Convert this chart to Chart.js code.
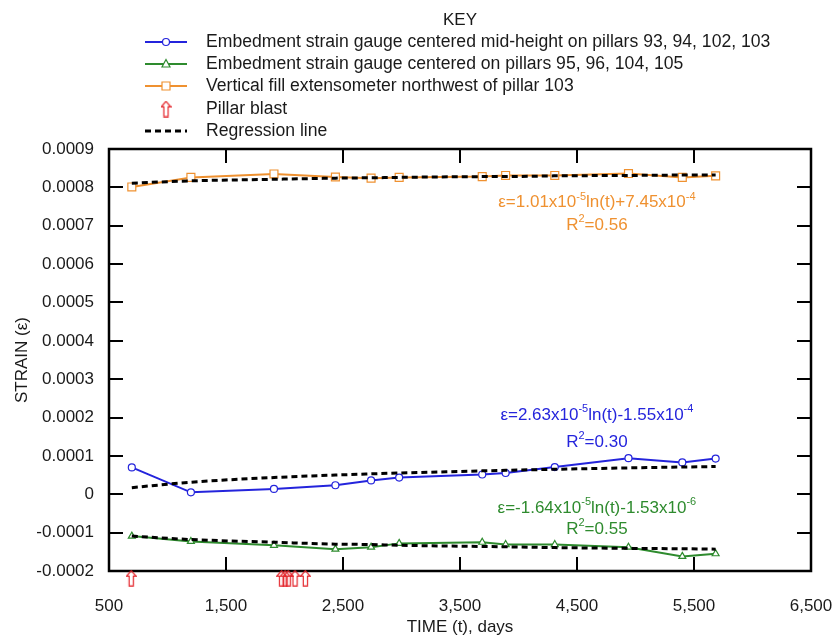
<!DOCTYPE html>
<html>
<head>
<meta charset="utf-8">
<script src="https://cdn.jsdelivr.net/npm/chart.js@4"></script>
<style>
  body { margin: 0; background: #fff; }
  canvas { display: block; }
</style>
</head>
<body>
<canvas id="chart" width="833" height="639"></canvas>
<script>
// readings, days since start
const days = [695, 1200, 1910, 2435, 2740, 2980, 3690, 3890, 4310, 4940, 5400, 5685];

// strain gauge mid-height (blue), centered (green), fill extensometer (orange)
const midHeightStrain = [0.000070, 0.000005, 0.000014, 0.0000235, 0.000036, 0.0000435, 0.0000515, 0.0000555, 0.000071, 0.000094, 0.000083, 0.000093];
const centeredStrain = [-0.000109, -0.000123, -0.000133, -0.000143, -0.000138, -0.000128, -0.000125, -0.000131, -0.000131, -0.000138, -0.000162, -0.000155];
const extensometerStrain = [0.000801, 0.000826, 0.000835, 0.000827, 0.000824, 0.000826, 0.000828, 0.000831, 0.000831, 0.000836, 0.000826, 0.000830];

// regression lines
const midHeightFit = [0.0000173, 0.0000315, 0.0000437, 0.0000501, 0.0000532, 0.0000554, 0.000061, 0.0000624, 0.0000651, 0.0000687, 0.000071, 0.0000724];
const centeredFit = [-0.000109, -0.000118, -0.000125, -0.000130, -0.000131, -0.000133, -0.000136, -0.000137, -0.000139, -0.000141, -0.000142, -0.000143];
const extensometerFit = [0.000811, 0.000817, 0.000821, 0.000824, 0.000825, 0.000826, 0.000828, 0.000828, 0.000830, 0.000831, 0.000832, 0.000832];

// pillar blasts, drawn just under the time axis
const blastDays = [690, 1975, 2005, 2032, 2090, 2178];
const blastLevel = -0.000219;

const timeTicks = [500, 1500, 2500, 3500, 4500, 5500, 6500];
const strainTicks = [-0.0002, -0.0001, 0, 0.0001, 0.0002, 0.0003, 0.0004, 0.0005, 0.0006, 0.0007, 0.0008, 0.0009];

const BLUE = '#2424dc';
const GREEN = '#2e8b2e';
const ORANGE = '#ef9130';
const RED = '#e4262c';
const FONT = "'Liberation Sans', Arial, Helvetica, sans-serif";

const pts = (xs, ys) => xs.map((x, i) => ({ x: x, y: ys[i] }));

// hollow up arrow used for the pillar blasts
function makeArrow() {
  const c = document.createElement('canvas');
  c.width = 11; c.height = 17;
  const g = c.getContext('2d');
  g.strokeStyle = RED;
  g.lineWidth = 1.2;
  g.beginPath();
  g.moveTo(5.5, 0.8);
  g.lineTo(10.2, 6.3);
  g.lineTo(7.6, 6.3);
  g.lineTo(7.6, 16.2);
  g.lineTo(3.4, 16.2);
  g.lineTo(3.4, 6.3);
  g.lineTo(0.8, 6.3);
  g.closePath();
  g.stroke();
  return c;
}
const arrow = makeArrow();

function dataSet(label, ys, color, style, r) {
  return {
    label: label,
    data: pts(days, ys),
    showLine: true,
    borderColor: color,
    borderWidth: 2,
    pointStyle: style,
    pointRadius: r,
    pointBorderWidth: 1.2,
    pointBackgroundColor: '#fff',
    pointBorderColor: color,
    order: 1
  };
}

function fitSet(ys) {
  return {
    label: 'Regression line',
    data: pts(days, ys),
    showLine: true,
    borderColor: '#000',
    borderWidth: 3,
    borderDash: [6, 4],
    pointRadius: 0,
    cubicInterpolationMode: 'monotone',
    order: 0
  };
}

// draws "text" with superscript parts, centred on x
function richText(ctx, parts, x, y, color) {
  const big = '17px ' + FONT, small = '11px ' + FONT;
  let w = 0;
  parts.forEach(p => { ctx.font = p.sup ? small : big; w += ctx.measureText(p.t).width; });
  let cx = x - w / 2;
  ctx.fillStyle = color;
  ctx.textAlign = 'left';
  ctx.textBaseline = 'middle';
  parts.forEach(p => {
    ctx.font = p.sup ? small : big;
    ctx.fillText(p.t, cx, p.sup ? y - 6 : y);
    cx += ctx.measureText(p.t).width;
  });
}

const notes = [
  { color: ORANGE, y: 0.00076, parts: [{ t: '\u03b5=1.01x10' }, { t: '-5', sup: true }, { t: 'ln(t)+7.45x10' }, { t: '-4', sup: true }] },
  { color: ORANGE, y: 0.000702, parts: [{ t: 'R' }, { t: '2', sup: true }, { t: '=0.56' }] },
  { color: BLUE, y: 0.0002065, parts: [{ t: '\u03b5=2.63x10' }, { t: '-5', sup: true }, { t: 'ln(t)-1.55x10' }, { t: '-4', sup: true }] },
  { color: BLUE, y: 0.0001355, parts: [{ t: 'R' }, { t: '2', sup: true }, { t: '=0.30' }] },
  { color: GREEN, y: -0.0000366, parts: [{ t: '\u03b5=-1.64x10' }, { t: '-5', sup: true }, { t: 'ln(t)-1.53x10' }, { t: '-6', sup: true }] },
  { color: GREEN, y: -0.0000914, parts: [{ t: 'R' }, { t: '2', sup: true }, { t: '=0.55' }] }
];
const noteDay = 4670;

// frame with inward ticks, blast arrows, equations and the key
const framePlugin = {
  id: 'frame',
  afterDatasetsDraw(chart) {
    const { ctx, chartArea: a, scales: { x, y } } = chart;
    ctx.save();
    ctx.strokeStyle = '#000';
    ctx.lineWidth = 2;
    x.ticks.forEach(t => {
      if (t.value === x.min || t.value === x.max) return;
      const px = Math.round(x.getPixelForValue(t.value));
      ctx.beginPath();
      ctx.moveTo(px, a.bottom); ctx.lineTo(px, a.bottom - 14);
      ctx.moveTo(px, a.top); ctx.lineTo(px, a.top + 14);
      ctx.stroke();
    });
    y.ticks.forEach(t => {
      if (t.value === y.min || t.value === y.max) return;
      const py = Math.round(y.getPixelForValue(t.value));
      ctx.beginPath();
      ctx.moveTo(a.left, py); ctx.lineTo(a.left + 14, py);
      ctx.moveTo(a.right, py); ctx.lineTo(a.right - 14, py);
      ctx.stroke();
    });
    ctx.lineWidth = 2.5;
    ctx.strokeRect(a.left, a.top, a.right - a.left, a.bottom - a.top);

    blastDays.forEach(d => {
      ctx.drawImage(arrow, x.getPixelForValue(d) - 5.5, y.getPixelForValue(blastLevel) - 8.5);
    });

    notes.forEach(n => richText(ctx, n.parts, x.getPixelForValue(noteDay), y.getPixelForValue(n.y), n.color));

    // key
    ctx.fillStyle = '#1a1a1a';
    ctx.font = '17px ' + FONT;
    ctx.textAlign = 'center';
    ctx.textBaseline = 'middle';
    ctx.fillText('KEY', 460, 20);
    const rows = [
      { y: 42, text: 'Embedment strain gauge centered mid-height on pillars 93, 94, 102, 103', kind: 'circle', color: BLUE },
      { y: 64, text: 'Embedment strain gauge centered on pillars 95, 96, 104, 105', kind: 'triangle', color: GREEN },
      { y: 86, text: 'Vertical fill extensometer northwest of pillar 103', kind: 'rect', color: ORANGE },
      { y: 109, text: 'Pillar blast', kind: 'arrow', color: RED },
      { y: 131, text: 'Regression line', kind: 'dash', color: '#000' }
    ];
    rows.forEach(r => {
      const x0 = 145, x1 = 187, xm = 166;
      ctx.setLineDash([]);
      if (r.kind === 'arrow') {
        ctx.drawImage(arrow, xm - 5.5, r.y - 8.5);
      } else if (r.kind === 'dash') {
        ctx.strokeStyle = '#000';
        ctx.lineWidth = 3;
        ctx.setLineDash([6, 4]);
        ctx.beginPath(); ctx.moveTo(x0, r.y); ctx.lineTo(x1, r.y); ctx.stroke();
        ctx.setLineDash([]);
      } else {
        ctx.strokeStyle = r.color;
        ctx.lineWidth = 2;
        ctx.beginPath(); ctx.moveTo(x0, r.y); ctx.lineTo(x1, r.y); ctx.stroke();
        ctx.fillStyle = '#fff';
        ctx.lineWidth = 1.2;
        ctx.beginPath();
        if (r.kind === 'circle') ctx.arc(xm, r.y, 3.5, 0, Math.PI * 2);
        else if (r.kind === 'rect') ctx.rect(xm - 4, r.y - 4, 8, 8);
        else { ctx.moveTo(xm, r.y - 4.5); ctx.lineTo(xm + 4, r.y + 3); ctx.lineTo(xm - 4, r.y + 3); ctx.closePath(); }
        ctx.fill(); ctx.stroke();
      }
      ctx.fillStyle = '#1a1a1a';
      ctx.font = '17.6px ' + FONT;
      ctx.textAlign = 'left';
      ctx.fillText(r.text, 206, r.y);
    });
    ctx.restore();
  }
};

const ctx = document.getElementById('chart').getContext('2d');
new Chart(ctx, {
  type: 'scatter',
  data: {
    datasets: [
      dataSet('Embedment strain gauge centered mid-height on pillars 93, 94, 102, 103', midHeightStrain, BLUE, 'circle', 3.5),
      dataSet('Embedment strain gauge centered on pillars 95, 96, 104, 105', centeredStrain, GREEN, 'triangle', 4),
      dataSet('Vertical fill extensometer northwest of pillar 103', extensometerStrain, ORANGE, 'rect', 5.6),
      fitSet(midHeightFit),
      fitSet(centeredFit),
      fitSet(extensometerFit)
    ]
  },
  options: {
    responsive: false,
    animation: false,
    devicePixelRatio: 1,
    layout: { padding: { top: 149, right: 0, left: 0, bottom: 0 } },
    plugins: {
      legend: { display: false },
      tooltip: { enabled: false }
    },
    scales: {
      x: {
        type: 'linear',
        min: 500,
        max: 6500,
        afterBuildTicks: s => { s.ticks = timeTicks.map(v => ({ value: v })); },
        afterFit: s => { s.height = 68; s.paddingRight = 22; },
        grid: { display: false, drawTicks: false },
        border: { display: false },
        ticks: {
          padding: 25,
          color: '#1a1a1a',
          font: { family: FONT, size: 17 },
          maxRotation: 0,
          autoSkip: false,
          callback: v => v.toLocaleString('en-US')
        },
        title: {
          display: true,
          text: 'TIME (t), days',
          color: '#1a1a1a',
          font: { family: FONT, size: 17 },
          padding: { top: 0, bottom: 1 }
        }
      },
      y: {
        min: -0.0002,
        max: 0.0009,
        afterBuildTicks: s => { s.ticks = strainTicks.map(v => ({ value: v })); },
        afterFit: s => { s.width = 109; },
        grid: { display: false, drawTicks: false },
        border: { display: false },
        ticks: {
          padding: 15,
          color: '#1a1a1a',
          font: { family: FONT, size: 17 },
          callback: v => (v === 0 ? '0' : v.toFixed(4))
        },
        title: {
          display: true,
          text: 'STRAIN (\u03b5)',
          color: '#1a1a1a',
          font: { family: FONT, size: 17 },
          padding: { top: 12, bottom: 0 }
        }
      }
    }
  },
  plugins: [framePlugin]
});
</script>
</body>
</html>
